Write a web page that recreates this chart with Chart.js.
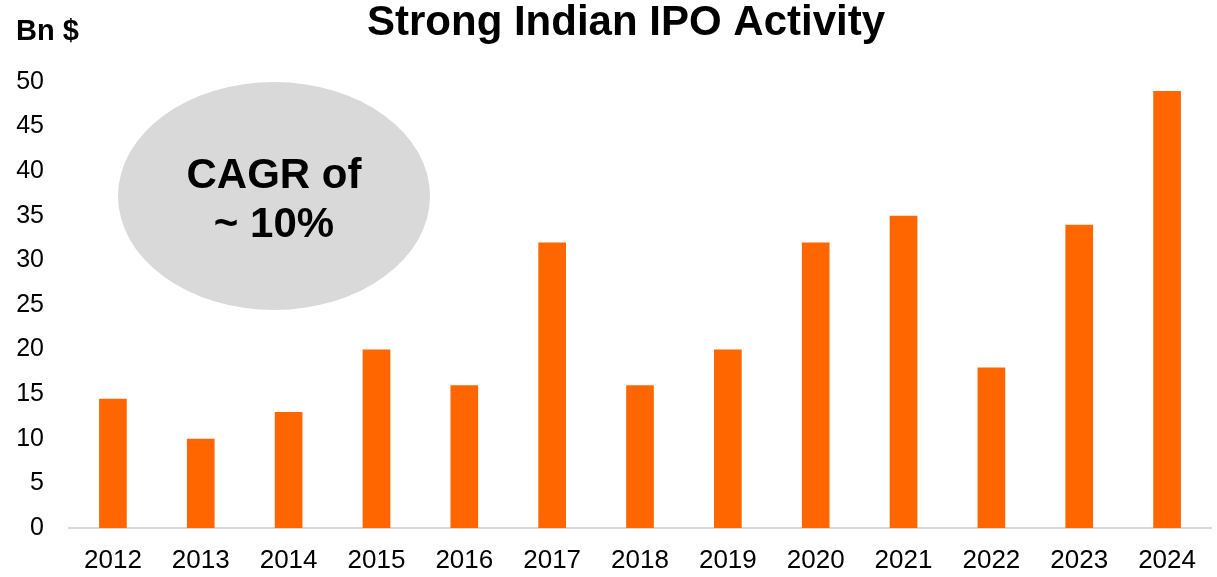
<!DOCTYPE html>
<html>
<head>
<meta charset="utf-8">
<script src="https://cdn.jsdelivr.net/npm/chart.js@4/dist/chart.umd.min.js"></script>
<style>
  html, body { margin: 0; padding: 0; background: #fff; }
  #wrap { width: 1217px; height: 577px; position: relative; }
</style>
</head>
<body>
<div id="wrap"><canvas id="ipoChart"></canvas></div>
<script>
// ============ Strong Indian IPO Activity (bar chart) ============
const YEARS = ['2012', '2013', '2014', '2015', '2016', '2017', '2018', '2019', '2020', '2021', '2022', '2023', '2024'];
const IPO_BN_USD = [14.5, 10, 13, 20, 16, 32, 16, 20, 32, 35, 18, 34, 49];
const Y_TICKS = [0, 5, 10, 15, 20, 25, 30, 35, 40, 45, 50];
const TITLE = 'Strong Indian IPO Activity';
const UNIT_LABEL = 'Bn $';
const CAGR_LINES = ['CAGR of', '~ 10%'];

const FONT = '"Liberation Sans", Arial, Helvetica, sans-serif';

// Title (sits a bit right of canvas centre), unit label, and the grey CAGR bubble.
const annotations = {
    id: 'annotations',
    beforeDatasetsDraw(chart) {
        const { ctx, chartArea } = chart;
        const cx = chartArea.left + 205;
        const cy = chartArea.top + 114;
        ctx.save();
        ctx.fillStyle = '#d9d9d9';
        ctx.beginPath();
        ctx.ellipse(cx, cy, 156, 114, 0, 0, Math.PI * 2);
        ctx.fill();

        ctx.fillStyle = '#000';
        ctx.textAlign = 'center';
        ctx.textBaseline = 'alphabetic';
        ctx.font = `bold 42px ${FONT}`;
        ctx.fillText(CAGR_LINES[0], cx, cy - 8);
        ctx.fillText(CAGR_LINES[1], cx, cy + 41);

        ctx.fillText(TITLE, (chartArea.left + chartArea.right) / 2 - 14, 35);

        ctx.textAlign = 'left';
        ctx.font = `bold 29px ${FONT}`;
        ctx.fillText(UNIT_LABEL, 16, 40);
        ctx.restore();
    }
};

new Chart(document.getElementById('ipoChart'), {
    type: 'bar',
    data: {
        labels: YEARS,
        datasets: [{
            label: 'IPO proceeds (Bn $)',
            data: IPO_BN_USD,
            backgroundColor: '#FF6600',
            borderWidth: 0,
            categoryPercentage: 1,
            barPercentage: 0.315
        }]
    },
    options: {
        responsive: true,
        maintainAspectRatio: false,
        animation: false,
        layout: { padding: { left: 0, right: 6, top: 82, bottom: 0 } },
        plugins: {
            legend: { display: false },
            tooltip: { enabled: false },
            title: { display: false }
        },
        scales: {
            x: {
                grid: { display: false, drawTicks: false },
                border: { display: true, color: '#d9d9d9', width: 2 },
                ticks: { color: '#000', font: { family: FONT, size: 26 }, padding: 17, maxRotation: 0 },
                afterFit(scale) { scale.height = 49; }
            },
            y: {
                min: 0,
                max: 50,
                grid: { display: false, drawTicks: false },
                border: { display: false },
                afterBuildTicks(scale) { scale.ticks = Y_TICKS.map(v => ({ value: v })); },
                ticks: { color: '#000', font: { family: FONT, size: 25 }, padding: 25 },
                afterFit(scale) { scale.width = 69; }
            }
        }
    },
    plugins: [annotations]
});
</script>
</body>
</html>
